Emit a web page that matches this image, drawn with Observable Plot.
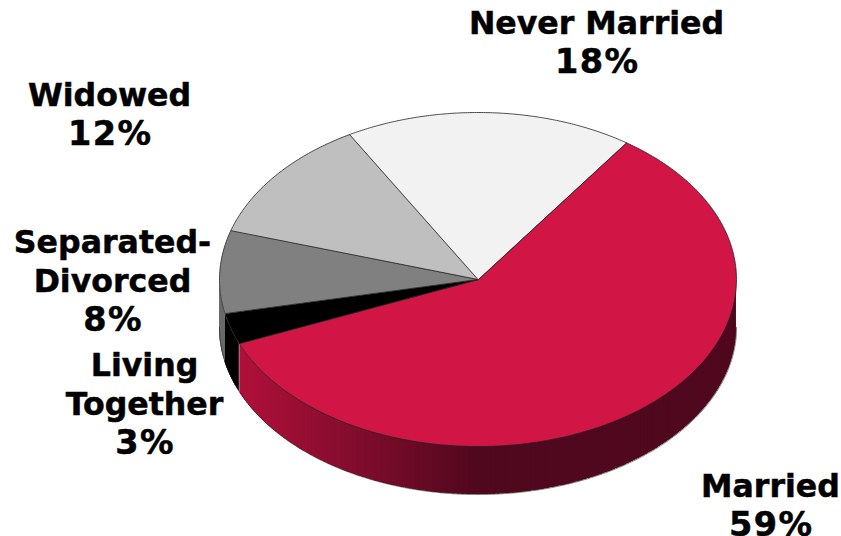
<!DOCTYPE html>
<html>
<head>
<meta charset="utf-8">
<script src="https://cdn.jsdelivr.net/npm/d3@7"></script>
<script src="https://cdn.jsdelivr.net/npm/@observablehq/plot@0.6"></script>
<style>
html,body{margin:0;padding:0;background:#fff}
svg{display:block}
.pct text,text.pct,.pct{letter-spacing:1.4px}
</style>
</head>
<body>
<div id="chart"></div>
<script>
// Data, in drawing order clockwise from the first slice
const categories = ["Married", "Living Together", "Separated-Divorced", "Widowed", "Never Married"];
const shares = [59, 3, 8, 12, 18];
const sliceColors = ["#d11544", "#000000", "#808080", "#bfbfbf", "#f2f2f2"];
const sideLight = ["#b0103a", "#000000", "#6a6a6a", "#999999", "#c4c4c4"];
const sideDark = ["#50081e", "#000000", "#6a6a6a", "#999999", "#c4c4c4"];
const labelLines = [
  ["Married"],
  ["Living", "Together"],
  ["Separated-", "Divorced"],
  ["Widowed"],
  ["Never Married"]
];

// Layout of the tilted disc and its labels
const W = 841, H = 536;
const disc = {cx: 477.5, cy: 279, rx: 258.5, ry: 167, depth: 48, startDeg: 35};
const labelAt = [[770, 506], [144, 404], [112, 281], [109, 114.5], [596, 42.5]];
const lineStep = 38.4;

const total = d3.sum(shares);
const rad = d => d * Math.PI / 180;
const px = a => disc.cx + disc.rx * Math.sin(rad(a));
const py = a => disc.cy - disc.ry * Math.cos(rad(a));

let acc = disc.startDeg;
const slices = shares.map((v, i) => {
  const a0 = acc; acc += v / total * 360;
  return {i, name: categories[i], a0, a1: acc};
});

// Top faces: closed polygons centre -> arc -> centre
const topPts = slices.flatMap(s => {
  const pts = [{x: disc.cx, y: disc.cy, name: s.name, fill: sliceColors[s.i]}];
  for (let a = s.a0; a < s.a1; a += 0.5) pts.push({x: px(a), y: py(a), name: s.name, fill: sliceColors[s.i]});
  pts.push({x: px(s.a1), y: py(s.a1), name: s.name, fill: sliceColors[s.i]});
  return pts;
});

// Visible rim, split into overlapping bands so that it can carry the shading
const rimPts = slices.flatMap(s => {
  const from = Math.max(s.a0, 90), to = Math.min(s.a1, 270);
  const out = [];
  if (to <= from) return out;
  for (let a = from; a < to; a += 1) {
    const m = a + 0.5;
    const t = Math.min(1, Math.max(0, (disc.cx - px(m)) / (disc.cx - 241)));
    const color = d3.interpolateRgb(sideDark[s.i], sideLight[s.i])(t);
    const key = s.name + a;
    const stops = d3.range(a, Math.min(a + 2.5, to) + 0.001, 0.5);
    for (const q of stops) out.push({x: px(q), y1: py(q), y2: py(q) + disc.depth, band: key, color});
  }
  return out;
});

const rimEdge = d3.range(90, 270.5, 0.5).map(a => ({x: px(a), y: py(a) + disc.depth}));

const nameRows = labelLines.flatMap((lines, i) => lines.map((text, k) => ({
  text, x: labelAt[i][0], y: labelAt[i][1] + (k - lines.length / 2) * lineStep
})));
const pctRows = shares.map((v, i) => ({
  text: v + "%", x: labelAt[i][0] + 0.7, y: labelAt[i][1] + (labelLines[i].length / 2) * lineStep
}));

const textStyle = {
  x: "x", y: "y", text: "text",
  fontFamily: "DejaVu Sans", fontWeight: "bold", fontSize: 31.6,
  textAnchor: "middle", lineAnchor: "middle", fill: "#000", stroke: "#000", strokeWidth: 0.5
};

const plot = Plot.plot({
  width: W, height: H,
  margin: 0,
  x: {domain: [0, W], range: [0, W], axis: null},
  y: {domain: [0, H], range: [0, H], axis: null},
  color: {type: "identity"},
  marks: [
    Plot.area(rimPts, {x1: "x", y1: "y1", y2: "y2", z: "band", fill: "color"}),
    Plot.line(rimEdge, {x: "x", y: "y", stroke: "#222", strokeWidth: 0.6}),
    Plot.line(topPts, {x: "x", y: "y", z: "name", fill: "fill", stroke: "#222", strokeWidth: 0.8, curve: "linear-closed"}),
    Plot.text(nameRows, textStyle),
    Plot.text(pctRows, {...textStyle, fontSize: 33.5, className: "pct"})
  ]
});
document.getElementById("chart").appendChild(plot);
</script>
</body>
</html>
